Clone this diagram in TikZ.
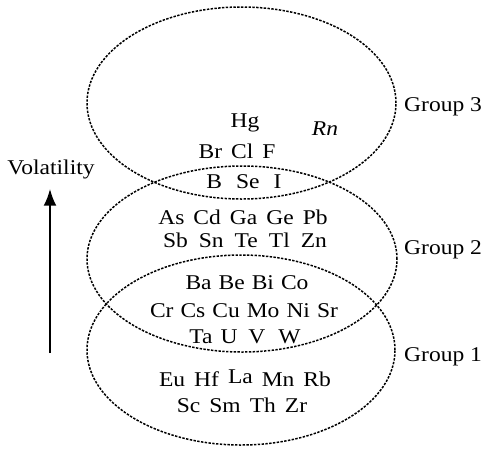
\documentclass[tikz,border=0pt]{standalone}
\usepackage{fontspec}
\setmainfont{Liberation Serif}[FakeStretch=1.12]
\usetikzlibrary{shapes.geometric, arrows.meta, positioning}
\newcommand{\elemfont}{\fontsize{21}{24}\selectfont\spaceskip=9pt\relax}
\tikzset{
    grp/.style={
        ellipse, draw=black, line width=1.5pt, dash pattern=on 2.4pt off 1.4pt,
        inner sep=0pt, fill=none
    },
    elems/.style={
        anchor=base, align=center, inner sep=1pt, font=\elemfont
    },
    grplabel/.style={
        anchor=base west, inner sep=0pt, font=\fontsize{21}{24}\selectfont
    },
    arrow/.style={
        line width=2.4pt, -{Latex[length=17pt, width=13pt]}, draw=black
    }
}
\begin{document}
\begin{tikzpicture}[x=1pt, y=-1pt]
    \useasboundingbox (0,0) rectangle (481,448);
    % the three groups
    \node[grp, minimum width=309pt, minimum height=192pt] (g3) at (241.5,103) {};
    \node[grp, minimum width=310pt, minimum height=186pt] (g2) at (242,259) {};
    \node[grp, minimum width=308pt, minimum height=190pt] (g1) at (241,350) {};

    \node[grplabel] (l3) at (404,111) {Group 3};
    \node[grplabel] (l2) at (404,254) {Group 2};
    \node[grplabel] (l1) at (404,361) {Group 1};

    % elements
    \node[elems] (hg) at (245,127) {Hg};
    \node[elems] (rn) at (325,135) {\itshape Rn};
    \node[elems] (brclf) at (237,158) {Br\ Cl\ F};
    \node[elems] (bsei) at (244,188) {B\hspace{14pt}Se\hspace{14pt}I};
    \node[elems] (ascd) at (243,224) {As Cd Ga Ge Pb};
    \node[elems] (sbsn) at (245,247) {Sb\hspace{11pt}Sn\hspace{11pt}Te\hspace{11pt}Tl\hspace{11pt}Zn};
    \node[elems] (babe) at (247,289) {Ba\hspace{7pt}Be\hspace{7pt}Bi\hspace{7pt}Co};
    \node[elems] (crcs) at (244,317) {Cr\hspace{7pt}Cs\hspace{7pt}Cu\hspace{7pt}Mo\hspace{7pt}Ni\hspace{7pt}Sr};
    \node[elems] (tauv) at (245,343) {Ta\hspace{8pt}U\hspace{11pt}V\hspace{13pt}W};
    \node[elems] (euhf) at (245,386) {Eu Hf \raisebox{3pt}{La} Mn Rb};
    \node[elems] (scsm) at (242,412) {Sc Sm Th Zr};

    % volatility axis
    \node[elems] (vol) at (51,174) {Volatility};
    \coordinate (vbot) at (50,353);
    \draw[arrow] (vbot) -- ([yshift=-9pt]vol.south -| vbot);
\end{tikzpicture}
\end{document}
